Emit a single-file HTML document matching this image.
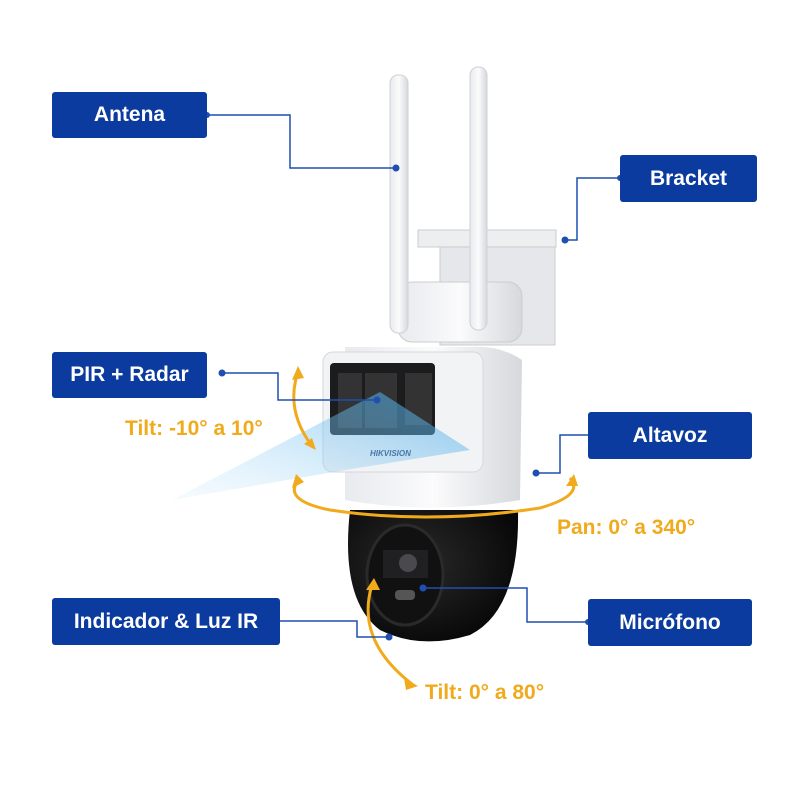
<!DOCTYPE html>
<html><head><style>
body{margin:0;width:800px;height:800px;background:#fff;overflow:hidden;position:relative;font-family:"Liberation Sans",sans-serif}
.b{position:absolute;background:#0b3b9e;color:#fff;font-weight:bold;font-size:21px;display:flex;align-items:center;justify-content:center;border-radius:3px}
.o{position:absolute;color:#f0aa1c;font-weight:bold;font-size:21px}
svg{position:absolute;left:0;top:0}
</style></head><body>
<svg width="800" height="800">
<defs>
<linearGradient id="w" x1="0" x2="1"><stop offset="0" stop-color="#e8eaee"/><stop offset=".5" stop-color="#fbfbfc"/><stop offset="1" stop-color="#d6d8dc"/></linearGradient>
<radialGradient id="k" cx=".4" cy=".4" r=".7"><stop offset="0" stop-color="#2a2a2c"/><stop offset="1" stop-color="#050505"/></radialGradient>
<linearGradient id="beam" x1="1" y1="0" x2="0" y2="1"><stop offset="0" stop-color="#3fa8e8" stop-opacity=".9"/><stop offset="1" stop-color="#bfe4fa" stop-opacity=".2"/></linearGradient>
</defs>
<rect x="440" y="245" width="115" height="100" fill="#e6e7ea" stroke="#ccc"/>
<rect x="418" y="230" width="138" height="17" fill="#eceef0" stroke="#ccc"/>
<rect x="398" y="282" width="124" height="60" rx="14" fill="url(#w)" stroke="#ccc"/>
<rect x="390" y="75" width="18" height="258" rx="8" fill="url(#w)" stroke="#cfd1d4"/>
<rect x="470" y="67" width="17" height="263" rx="8" fill="url(#w)" stroke="#cfd1d4"/>
<path d="M345 420 L345 500 Q430 515 520 500 L522 360 Q500 345 470 347 L345 347 Z" fill="url(#w)"/>
<rect x="323" y="352" width="160" height="120" rx="10" fill="#f2f3f5" stroke="#d5d7da"/>
<rect x="330" y="363" width="105" height="72" rx="4" fill="#1c1c1e"/>
<rect x="338" y="373" width="24" height="55" fill="#333"/><rect x="365" y="373" width="32" height="55" fill="#333"/><rect x="405" y="373" width="27" height="52" fill="#333"/>
<text x="370" y="456" font-size="8" font-style="italic" font-weight="bold" fill="#2a3d6e" font-family="Liberation Sans">HIKVISION</text>
<path d="M350 510 Q340 600 380 630 Q420 650 470 635 Q520 610 518 510 Z" fill="url(#k)"/>
<ellipse cx="405" cy="575" rx="38" ry="50" fill="#111" stroke="#2a2a2a" stroke-width="3"/>
<rect x="383" y="550" width="45" height="28" fill="#202022"/>
<circle cx="408" cy="563" r="9" fill="#4a4a4e"/>
<rect x="395" y="590" width="20" height="10" rx="4" fill="#555"/>
<polygon points="380,392 470,450 345,470 172,500" fill="url(#beam)" opacity=".7"/>
<g stroke="#f0aa1c" stroke-width="3" fill="none">
<path d="M298 372 Q285 410 312 446"/>
<path d="M300 478 Q280 500 330 510 Q430 525 540 508 Q585 495 570 478"/>
<path d="M372 585 Q355 640 412 684"/>
</g>
<g fill="#f0aa1c"><polygon points="298,366 292,380 304,378"/><polygon points="316,450 304,444 312,438"/><polygon points="296,474 292,488 304,482"/><polygon points="574,474 566,486 578,486"/><polygon points="374,578 366,590 380,590"/><polygon points="418,686 404,678 406,690"/></g>
<g stroke="#1f4fb0" stroke-width="1.5" fill="none">
<polyline points="207,115 290,115 290,168 396,168"/>
<polyline points="620,178 577,178 577,240 565,240"/>
<polyline points="222,373 278,373 278,400 377,400"/>
<polyline points="588,435 560,435 560,473 536,473"/>
<polyline points="280,621 357,621 357,637 389,637"/>
<polyline points="588,622 527,622 527,588 423,588"/>
</g>
<g fill="#1f4fb0"><circle cx="396" cy="168" r="3.5"/><circle cx="565" cy="240" r="3.5"/><circle cx="222" cy="373" r="3.5"/><circle cx="377" cy="400" r="3.5"/><circle cx="536" cy="473" r="3.5"/><circle cx="389" cy="637" r="3.5"/><circle cx="423" cy="588" r="3.5"/><circle cx="207" cy="115" r="3"/><circle cx="620" cy="178" r="3"/><circle cx="588" cy="622" r="3"/></g>
</svg>
<div class="b" style="left:52px;top:92px;width:155px;height:46px">Antena</div>
<div class="b" style="left:620px;top:155px;width:137px;height:47px">Bracket</div>
<div class="b" style="left:52px;top:352px;width:155px;height:46px">PIR + Radar</div>
<div class="b" style="left:588px;top:412px;width:164px;height:47px">Altavoz</div>
<div class="b" style="left:52px;top:598px;width:228px;height:47px">Indicador &amp; Luz IR</div>
<div class="b" style="left:588px;top:599px;width:164px;height:47px">Micrófono</div>
<div class="o" style="left:125px;top:417px">Tilt: -10° a 10°</div>
<div class="o" style="left:557px;top:516px">Pan: 0° a 340°</div>
<div class="o" style="left:425px;top:681px">Tilt: 0° a 80°</div>
</body></html>
